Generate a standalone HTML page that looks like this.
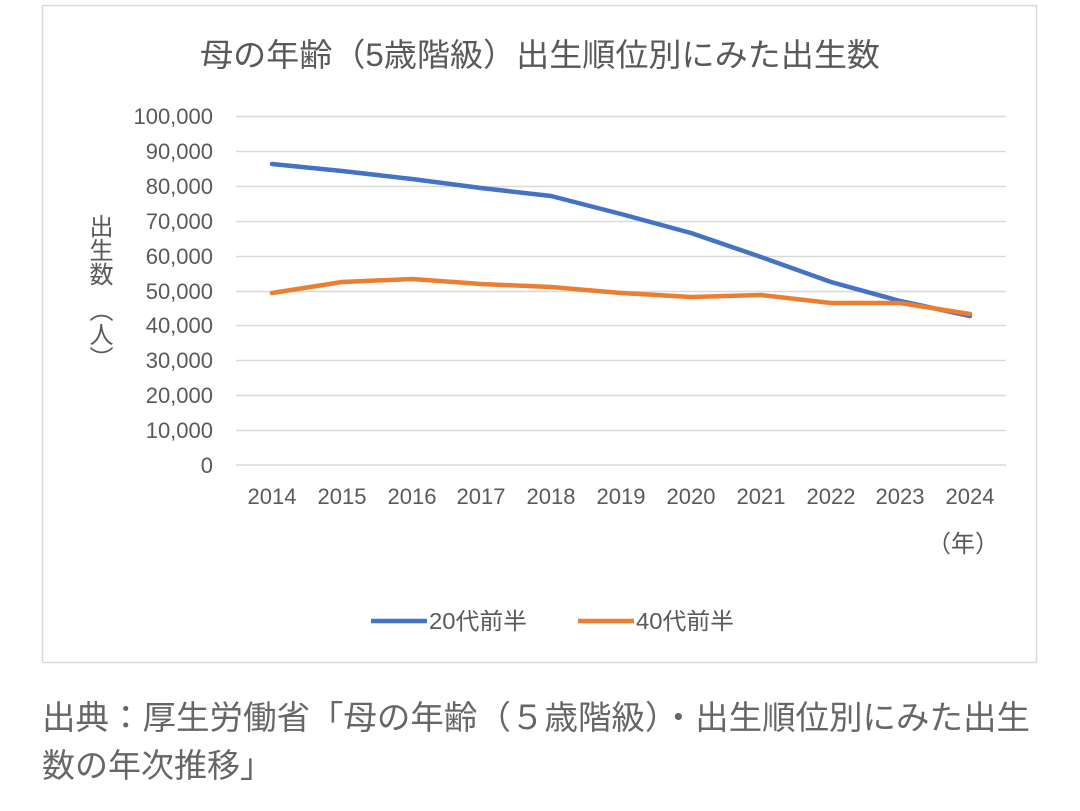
<!DOCTYPE html>
<html><head><meta charset="utf-8"><style>
body{margin:0;background:#fff;width:1080px;height:811px;overflow:hidden;font-family:"Liberation Sans","Noto Sans CJK JP",sans-serif;}
.yl{position:absolute;left:88px;writing-mode:vertical-rl;font-family:"Noto Sans CJK JP",sans-serif;font-size:24px;line-height:26px;color:#595959;}
</style></head><body>
<svg width="1080" height="811" xmlns="http://www.w3.org/2000/svg" style="position:absolute;left:0;top:0">
<rect x="42.5" y="5.5" width="994" height="657" fill="#fff" stroke="#d9d9d9" stroke-width="1.5"/>
<text x="540" y="66" text-anchor="middle" font-size="32" fill="#595959" textLength="680" lengthAdjust="spacingAndGlyphs">母の年齢（5歳階級）出生順位別にみた出生数</text>
<g stroke="#d9d9d9" stroke-width="1.5">
<line x1="236" x2="1006" y1="116.5" y2="116.5"/><line x1="236" x2="1006" y1="151.5" y2="151.5"/>
<line x1="236" x2="1006" y1="186.5" y2="186.5"/><line x1="236" x2="1006" y1="221.5" y2="221.5"/>
<line x1="236" x2="1006" y1="256.5" y2="256.5"/><line x1="236" x2="1006" y1="291.5" y2="291.5"/>
<line x1="236" x2="1006" y1="325.5" y2="325.5"/><line x1="236" x2="1006" y1="360.5" y2="360.5"/>
<line x1="236" x2="1006" y1="395.5" y2="395.5"/><line x1="236" x2="1006" y1="430.5" y2="430.5"/>
<line x1="236" x2="1006" y1="465" y2="465"/>
</g>
<g font-size="22" fill="#595959" text-anchor="end">
<text x="213" y="124">100,000</text><text x="213" y="159">90,000</text><text x="213" y="194">80,000</text>
<text x="213" y="229">70,000</text><text x="213" y="264">60,000</text><text x="213" y="299">50,000</text>
<text x="213" y="333">40,000</text><text x="213" y="368">30,000</text><text x="213" y="403">20,000</text>
<text x="213" y="438">10,000</text><text x="213" y="473">0</text>
</g>
<g font-size="22" fill="#595959" text-anchor="middle">
<text x="272" y="504">2014</text><text x="342" y="504">2015</text><text x="412" y="504">2016</text>
<text x="481" y="504">2017</text><text x="551" y="504">2018</text><text x="621" y="504">2019</text>
<text x="691" y="504">2020</text><text x="761" y="504">2021</text><text x="831" y="504">2022</text>
<text x="900" y="504">2023</text><text x="970" y="504">2024</text>
</g>
<text x="963" y="552" text-anchor="middle" font-size="24" fill="#595959">（年）</text>
<polyline fill="none" stroke="#4472c4" stroke-width="4.5" stroke-linejoin="round" stroke-linecap="round"
points="272,164 342,171 412,179 481,188 551,196 621,214 691,233 761,257 831,282 900,301 970,316"/>
<polyline fill="none" stroke="#ed7d31" stroke-width="4.5" stroke-linejoin="round" stroke-linecap="round"
points="272,293 342,282 412,279 481,284 551,287 621,293 691,297 761,295 831,303 900,303 970,314"/>
<line x1="371" x2="427" y1="621" y2="621" stroke="#4472c4" stroke-width="4.5"/>
<text x="429" y="629" font-size="23" fill="#595959" textLength="98" lengthAdjust="spacingAndGlyphs">20代前半</text>
<line x1="578" x2="634" y1="621" y2="621" stroke="#ed7d31" stroke-width="4.5"/>
<text x="636" y="629" font-size="23" fill="#595959" textLength="98" lengthAdjust="spacingAndGlyphs">40代前半</text>
<text x="42" y="729" font-size="33" fill="#666" textLength="988" lengthAdjust="spacingAndGlyphs">出典：厚生労働省「母の年齢（５歳階級）・出生順位別にみた出生</text>
<text x="42" y="777" font-size="33" fill="#666">数の年次推移」</text>
</svg>
<div class="yl" style="top:214px">出生数</div>
<div class="yl" style="top:298px">（人）</div>
</body></html>
